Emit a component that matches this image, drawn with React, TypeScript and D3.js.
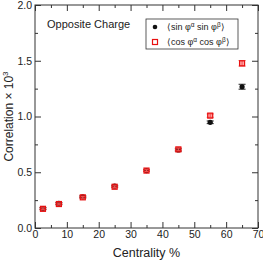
import { useEffect, useRef } from 'react';
import * as d3 from 'd3';

const WIDTH = 263;
const HEIGHT = 260;
const MARGIN = { top: 5, right: 5, bottom: 32, left: 35 };

const CENTRALITY = [2.5, 7.5, 15, 25, 35, 45, 55, 65];
const SIN_VALUES = [0.175, 0.22, 0.28, 0.375, 0.515, 0.70, 0.948, 1.267];
const SIN_ERRORS = [0.008, 0.008, 0.008, 0.008, 0.008, 0.01, 0.012, 0.022];
const COS_VALUES = [0.172, 0.215, 0.275, 0.37, 0.515, 0.705, 1.008, 1.477];
const COS_ERRORS = [0.008, 0.008, 0.008, 0.008, 0.008, 0.012, 0.015, 0.025];
const X_TICKS = [0, 10, 20, 30, 40, 50, 60, 70];
const Y_TICKS = [0, 0.5, 1.0, 1.5, 2.0];

const FONT = 'Liberation Sans, Arial, sans-serif';

export default function App() {
  const svgRef = useRef<SVGSVGElement | null>(null);

  useEffect(() => {
    const svg = d3.select(svgRef.current);
    svg.selectAll('*').remove();

    const w = WIDTH - MARGIN.left - MARGIN.right;
    const h = HEIGHT - MARGIN.top - MARGIN.bottom;
    const g = svg.append('g').attr('transform', `translate(${MARGIN.left},${MARGIN.top})`);

    const x = d3.scaleLinear().domain([0, 70]).range([0, w]);
    const y = d3.scaleLinear().domain([0, 2]).range([h, 0]);

    // frame
    g.append('rect').attr('width', w).attr('height', h).attr('fill', 'none').attr('stroke', '#333').attr('stroke-width', 1);

    // inward ticks on all sides
    const axisStyle = (sel: any) => {
      sel.select('.domain').remove();
      sel.selectAll('.tick line').attr('stroke', '#333');
      sel.selectAll('text').style('font-family', FONT).style('font-size', '10.5px').attr('fill', '#222');
    };
    const xMinor = d3.range(5, 70, 10);
    const yMinor = d3.range(0.25, 2, 0.5);

    g.append('g').attr('transform', `translate(0,${h})`)
      .call(d3.axisBottom(x).tickValues(X_TICKS).tickSize(-6).tickPadding(3).tickFormat(d3.format('d')))
      .call(axisStyle);
    g.append('g').attr('transform', `translate(0,${h})`)
      .call(d3.axisBottom(x).tickValues(xMinor).tickSize(-3).tickFormat(() => ''))
      .call(axisStyle);
    g.append('g')
      .call(d3.axisTop(x).tickValues(X_TICKS).tickSize(-6).tickFormat(() => ''))
      .call(axisStyle);
    g.append('g')
      .call(d3.axisTop(x).tickValues(xMinor).tickSize(-3).tickFormat(() => ''))
      .call(axisStyle);
    g.append('g')
      .call(d3.axisLeft(y).tickValues(Y_TICKS).tickSize(-6).tickPadding(3).tickFormat(d3.format('.1f')))
      .call(axisStyle);
    g.append('g')
      .call(d3.axisLeft(y).tickValues(yMinor).tickSize(-3).tickFormat(() => ''))
      .call(axisStyle);
    g.append('g').attr('transform', `translate(${w},0)`)
      .call(d3.axisRight(y).tickValues(Y_TICKS).tickSize(-6).tickFormat(() => ''))
      .call(axisStyle);
    g.append('g').attr('transform', `translate(${w},0)`)
      .call(d3.axisRight(y).tickValues(yMinor).tickSize(-3).tickFormat(() => ''))
      .call(axisStyle);

    const drawErr = (vals: number[], errs: number[], color: string) => {
      CENTRALITY.forEach((c, i) => {
        const cx = x(c);
        const y1 = y(vals[i] + errs[i]);
        const y2 = y(vals[i] - errs[i]);
        g.append('line').attr('x1', cx).attr('x2', cx).attr('y1', y1).attr('y2', y2).attr('stroke', color).attr('stroke-width', 1);
        [y1, y2].forEach((yy) => {
          g.append('line').attr('x1', cx - 3.5).attr('x2', cx + 3.5).attr('y1', yy).attr('y2', yy).attr('stroke', color).attr('stroke-width', 1);
        });
      });
    };

    drawErr(SIN_VALUES, SIN_ERRORS, '#222');
    g.selectAll('.sin')
      .data(CENTRALITY)
      .join('circle')
      .attr('class', 'sin')
      .attr('cx', (d) => x(d))
      .attr('cy', (_d, i) => y(SIN_VALUES[i]))
      .attr('r', 2.6)
      .attr('fill', '#111');

    drawErr(COS_VALUES, COS_ERRORS, '#f06060');
    g.selectAll('.cos')
      .data(CENTRALITY)
      .join('rect')
      .attr('class', 'cos')
      .attr('x', (d) => x(d) - 2.5)
      .attr('y', (_d, i) => y(COS_VALUES[i]) - 2.5)
      .attr('width', 5)
      .attr('height', 5)
      .attr('fill', 'rgba(255,60,60,0.45)')
      .attr('stroke', '#e81010')
      .attr('stroke-width', 1.2);

    // title text
    g.append('text').attr('x', 12).attr('y', 23).text('Opposite Charge')
      .style('font-family', FONT).style('font-size', '11px').attr('fill', '#222');

    // legend
    const lg = g.append('g').attr('transform', `translate(${111},${14})`);
    lg.append('rect').attr('width', 92).attr('height', 30).attr('fill', 'white').attr('stroke', '#333').attr('stroke-width', 0.8);
    lg.append('circle').attr('cx', 9).attr('cy', 8).attr('r', 2.3).attr('fill', '#111');
    lg.append('rect').attr('x', 6.5).attr('y', 20.5).attr('width', 5).attr('height', 5).attr('fill', 'white').attr('stroke', '#e81010').attr('stroke-width', 1.2);
    const legText = (yy: number, fn: string) => {
      const t = lg.append('text').attr('x', 21).attr('y', yy)
        .style('font-family', FONT).style('font-size', '9px').attr('fill', '#222');
      t.append('tspan').text(`\u27E8${fn} \u03C6`);
      t.append('tspan').text('\u03B1').attr('dy', -3).style('font-size', '6.5px');
      t.append('tspan').text(` ${fn} \u03C6`).attr('dy', 3);
      t.append('tspan').text('\u03B2').attr('dy', -3).style('font-size', '6.5px');
      t.append('tspan').text('\u27E9').attr('dy', 3);
    };
    legText(11, 'sin');
    legText(26, 'cos');

    // axis labels
    svg.append('text').attr('x', MARGIN.left + w / 2).attr('y', HEIGHT - 3).attr('text-anchor', 'middle')
      .text('Centrality %').style('font-family', FONT).style('font-size', '12.5px').attr('fill', '#222');
    const yl = svg.append('text').attr('transform', `translate(13,${MARGIN.top + h / 2}) rotate(-90)`).attr('text-anchor', 'middle')
      .style('font-family', FONT).style('font-size', '12px').attr('fill', '#222');
    yl.append('tspan').text('Correlation \u00D7 10');
    yl.append('tspan').text('3').attr('dy', -5).style('font-size', '8px');
  }, []);

  return (
    <svg
      ref={svgRef}
      width={WIDTH}
      height={HEIGHT}
      style={{ position: 'absolute', left: 0, top: 0, background: 'white' }}
    />
  );
}
